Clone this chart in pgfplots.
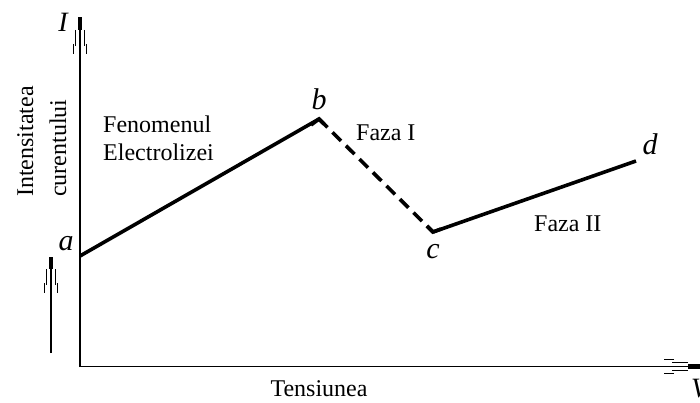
\documentclass[border=0pt]{standalone}
\usepackage{pgfplots}
\pgfplotsset{compat=1.18}
\usepackage{fontspec}
\setmainfont{Liberation Serif}
\tikzset{
  myarrow/.pic={
    \fill (-2.4pt,0.5pt) rectangle (2.4pt,-12pt);
    \draw[line width=1.1pt] (-4.3pt,-12pt) -- (-4.3pt,-28pt);
    \draw[line width=1.1pt] (4.3pt,-12pt) -- (4.3pt,-28pt);
    \draw[line width=1.1pt] (-6.7pt,-26pt) -- (-6.7pt,-36pt);
    \draw[line width=1.1pt] (6.7pt,-26pt) -- (6.7pt,-36pt);
  }
}
\begin{document}
\begin{tikzpicture}
\begin{axis}[
  width=700pt, height=403pt, scale only axis,
  xmin=0, xmax=700, ymin=0, ymax=403, y dir=reverse,
  axis lines=none, clip=false,
]
% axes
\draw[line width=1.2pt] (axis cs:80,367) -- (axis cs:80,20);
\draw[line width=1.2pt] (axis cs:79.4,366.5) -- (axis cs:698,366.5);
\path (axis cs:80,18) pic{myarrow};
\path (axis cs:700,366.5) pic[rotate=-90]{myarrow};
% small arrow
\draw[line width=1.1pt] (axis cs:51,353) -- (axis cs:51,265);
\path (axis cs:51,257) pic{myarrow};
% curve
\addplot[black, line width=3.6pt, line join=miter] coordinates {(80,256) (319,119)};
\addplot[black, line width=3.6pt, line join=miter, dash pattern=on 12pt off 7pt] coordinates {(319,119) (433,232)};
\addplot[black, line width=3.6pt, line join=miter] coordinates {(433,232) (636,161)};
\draw[line width=3.6pt, line join=miter] (axis cs:311,125) -- (axis cs:319,119) -- (axis cs:324,124);
\draw[line width=3.6pt, line join=miter] (axis cs:427,226) -- (axis cs:433,232) -- (axis cs:441,229);
% labels
\node[font=\fontsize{30}{34}\selectfont\itshape] at (axis cs:66,244) {a};
\node[font=\fontsize{30}{34}\selectfont\itshape] at (axis cs:319,99) {b};
\node[font=\fontsize{30}{34}\selectfont\itshape] at (axis cs:433,252) {c};
\node[font=\fontsize{30}{34}\selectfont\itshape] at (axis cs:650,144) {d};
\node[font=\fontsize{28}{32}\selectfont\itshape] at (axis cs:63,22) {I};
\node[font=\fontsize{28}{32}\selectfont\itshape, anchor=west, inner sep=0pt] at (axis cs:691,389) {V};
\node[font=\fontsize{24}{28}\selectfont, anchor=base west, inner sep=0pt] at (axis cs:103,133) {Fenomenul};
\node[font=\fontsize{24}{28}\selectfont, anchor=base west, inner sep=0pt] at (axis cs:103,161) {Electrolizei};
\node[font=\fontsize{24}{28}\selectfont, anchor=base west, inner sep=0pt] at (axis cs:356,141) {Faza I};
\node[font=\fontsize{24}{28}\selectfont, anchor=base west, inner sep=0pt] at (axis cs:534,231) {Faza II};
\node[font=\fontsize{24}{28}\selectfont, anchor=base, inner sep=0pt] at (axis cs:319,396) {Tensiunea};
\node[font=\fontsize{24}{28}\selectfont, rotate=90, anchor=base west, inner sep=0pt] at (axis cs:33,197) {Intensitatea};
\node[font=\fontsize{24}{28}\selectfont, rotate=90, anchor=base west, inner sep=0pt] at (axis cs:66,197) {curentului};
\end{axis}
\pgfresetboundingbox
\path[use as bounding box] (current axis.south west) rectangle (current axis.north east);
\end{tikzpicture}
\end{document}
